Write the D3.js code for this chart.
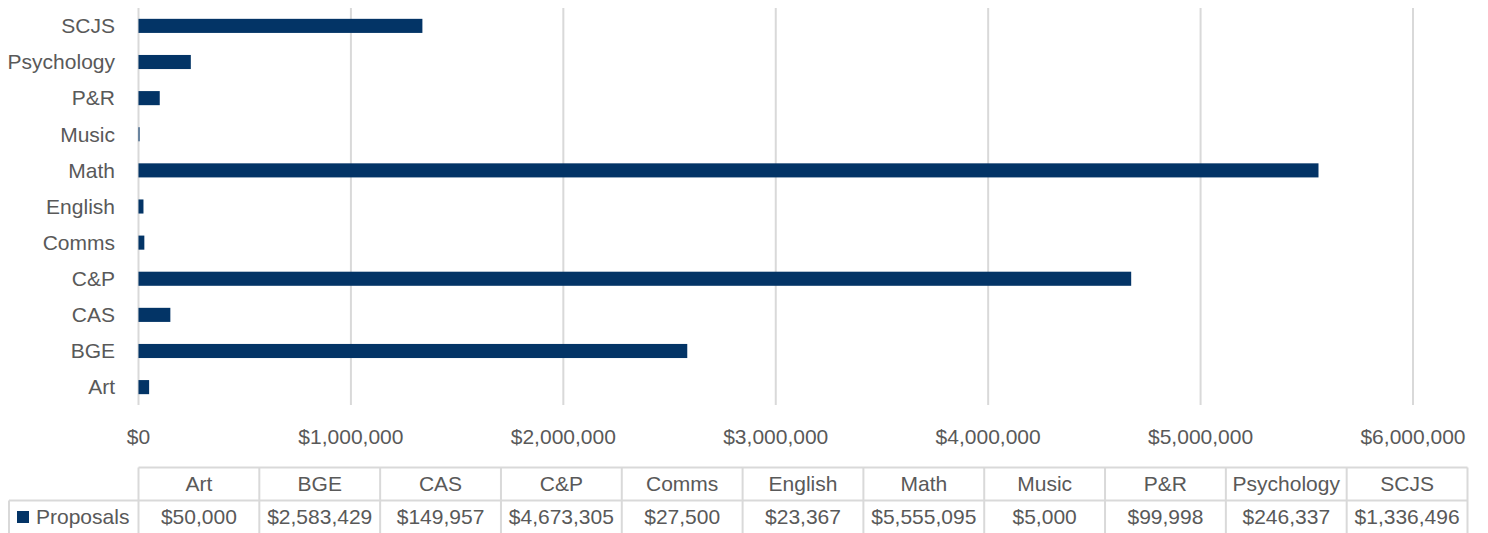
<!DOCTYPE html>
<html>
<head>
<meta charset="utf-8">
<script src="https://cdn.jsdelivr.net/npm/d3@7"></script>
<style>
  body { margin: 0; background: #fff; }
  text { font-family: "Liberation Sans", Arial, sans-serif; fill: #595959; }
</style>
</head>
<body>
<script>
var width = 1488,
    height = 533;

var categories = ['Art', 'BGE', 'CAS', 'C&P', 'Comms', 'English', 'Math', 'Music', 'P&R', 'Psychology', 'SCJS'];
var proposals = [50000, 2583429, 149957, 4673305, 27500, 23367, 5555095, 5000, 99998, 246337, 1336496];
var seriesName = 'Proposals';
var xTicks = [0, 1000000, 2000000, 3000000, 4000000, 5000000, 6000000];

var barColor = '#033466',
    gridColor = '#d9d9d9',
    fontSize = '21px';

var svg = d3.select('body').append('svg')
    .attr('width', width)
    .attr('height', height);

var x = d3.scaleLinear().domain([0, 6000000]).range([138.5, 1413]);
var y = d3.scaleBand()
    .domain(categories.slice().reverse())
    .range([8, 405])
    .paddingInner(0.61)
    .paddingOuter(0.3);

var money = function (v) { return '$' + d3.format(',')(v); };

// gridlines
svg.append('g').selectAll('line')
    .data(xTicks)
    .enter().append('line')
    .attr('x1', d => x(d)).attr('x2', d => x(d))
    .attr('y1', 8).attr('y2', 405)
    .attr('stroke', gridColor)
    .attr('stroke-width', 2);

// bars
svg.append('g').selectAll('rect')
    .data(categories)
    .enter().append('rect')
    .attr('x', x(0))
    .attr('y', d => y(d))
    .attr('height', y.bandwidth())
    .attr('width', (d, i) => Math.max(1, x(proposals[i]) - x(0)))
    .attr('fill', barColor);

// category labels
svg.append('g').selectAll('text')
    .data(categories)
    .enter().append('text')
    .attr('x', 115)
    .attr('y', d => y(d) + y.bandwidth() / 2)
    .attr('dy', '0.35em')
    .attr('text-anchor', 'end')
    .style('font-size', fontSize)
    .text(d => d);

// x tick labels
svg.append('g').selectAll('text')
    .data(xTicks)
    .enter().append('text')
    .attr('x', d => x(d))
    .attr('y', 444)
    .attr('text-anchor', 'middle')
    .style('font-size', fontSize)
    .text(money);

// data table
var col = d3.scaleBand().domain(categories).range([138.5, 1467.5]);
var tTop = 467.5, tMid = 500.5, tBot = 540;
var tbl = svg.append('g')
    .attr('stroke', gridColor)
    .attr('stroke-width', 2);

tbl.append('line').attr('x1', col.range()[0]).attr('x2', col.range()[1]).attr('y1', tTop).attr('y2', tTop);
tbl.append('line').attr('x1', 9).attr('x2', col.range()[1]).attr('y1', tMid).attr('y2', tMid);
tbl.append('line').attr('x1', 9).attr('x2', 9).attr('y1', tMid).attr('y2', tBot);
tbl.selectAll('.vline')
    .data(categories.concat(['end']))
    .enter().append('line')
    .attr('class', 'vline')
    .attr('x1', (d, i) => col.range()[0] + i * col.bandwidth())
    .attr('x2', (d, i) => col.range()[0] + i * col.bandwidth())
    .attr('y1', tTop).attr('y2', tBot);

svg.append('g').selectAll('text')
    .data(categories)
    .enter().append('text')
    .attr('x', d => col(d) + col.bandwidth() / 2)
    .attr('y', 491)
    .attr('text-anchor', 'middle')
    .style('font-size', fontSize)
    .text(d => d);

svg.append('g').selectAll('text')
    .data(proposals)
    .enter().append('text')
    .attr('x', (d, i) => col(categories[i]) + col.bandwidth() / 2)
    .attr('y', 524)
    .attr('text-anchor', 'middle')
    .style('font-size', fontSize)
    .text(money);

// legend key in table
svg.append('rect')
    .attr('x', 17).attr('y', 511)
    .attr('width', 12).attr('height', 12)
    .attr('fill', barColor);
svg.append('text')
    .attr('x', 36).attr('y', 524)
    .style('font-size', fontSize)
    .text(seriesName);
</script>
</body>
</html>
